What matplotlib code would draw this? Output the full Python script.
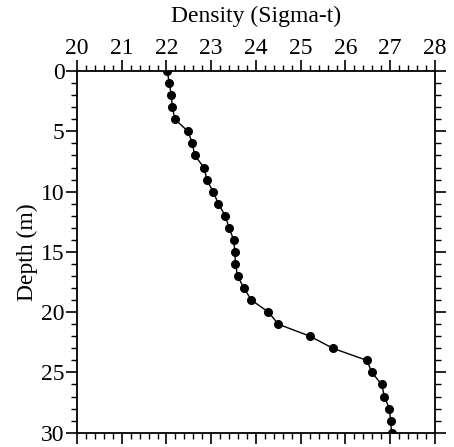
import matplotlib.pyplot as plt
from matplotlib.ticker import MultipleLocator

# 数据：深度 (m) 与 密度 (Sigma-t)
depth = [0, 1, 2, 3, 4, 5, 6, 7, 8, 9, 10, 11, 12, 13, 14, 15,
         16, 17, 18, 19, 20, 21, 22, 23, 24, 25, 26, 27, 28, 29, 30]
density = [22.02, 22.06, 22.11, 22.13, 22.19, 22.48, 22.58, 22.63, 22.84, 22.90,
           23.04, 23.16, 23.31, 23.40, 23.50, 23.53, 23.54, 23.59, 23.73, 23.90,
           24.28, 24.50, 25.21, 25.72, 26.48, 26.59, 26.81, 26.87, 26.98, 27.01, 27.03]

plt.rcParams['font.family'] = ['Liberation Serif', 'DejaVu Serif']

fig = plt.figure(figsize=(4.54, 4.47), dpi=100)
ax = fig.add_axes([0.1696, 0.032, 0.7884, 0.809])

ax.plot(density, depth, color='black', linewidth=1.0,
        marker='o', markersize=5.5, markerfacecolor='black', markeredgecolor='black')

ax.set_xlim(20, 28)
ax.set_ylim(30, 0)

ax.xaxis.set_major_locator(MultipleLocator(1))
ax.xaxis.set_minor_locator(MultipleLocator(0.2))
ax.yaxis.set_major_locator(MultipleLocator(5))
ax.yaxis.set_minor_locator(MultipleLocator(1))

ax.xaxis.tick_top()
ax.xaxis.set_label_position('top')
ax.tick_params(axis='both', which='both', direction='out', color='black',
               top=True, bottom=True, left=True, right=True,
               labeltop=True, labelbottom=False, labelleft=True, labelright=False,
               labelsize=17, pad=1)
ax.tick_params(axis='both', which='major', length=8, width=1.2)
ax.tick_params(axis='both', which='minor', length=4.5, width=1.0)

for s in ax.spines.values():
    s.set_linewidth(1.3)

ax.set_xlabel('Density (Sigma-t)', fontsize=17, labelpad=11)
ax.set_ylabel('Depth (m)', fontsize=17, labelpad=2)

fig.savefig('out.png', dpi=100)
